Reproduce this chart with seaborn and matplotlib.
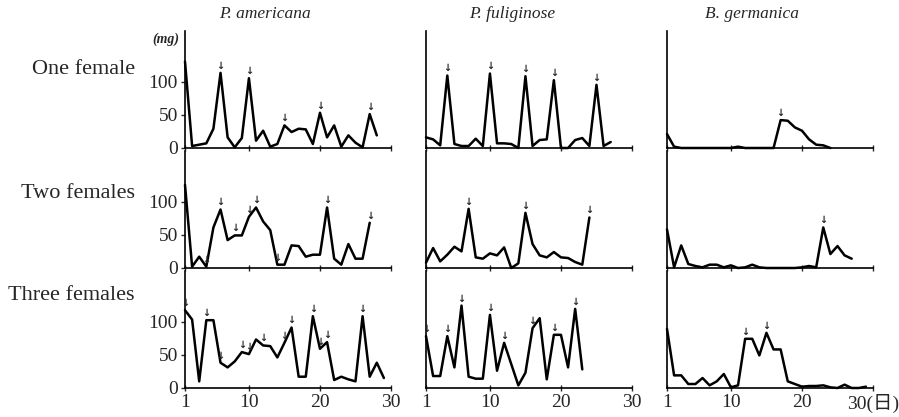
import matplotlib
matplotlib.use("Agg")
import matplotlib.pyplot as plt
import seaborn as sns
import pandas as pd

species = ["P. americana", "P. fuliginose", "B. germanica"]
groups = ["One female", "Two females", "Three females"]

# daily ootheca weight (mg)
americana_one = [130, 3, 5, 7, 29, 113, 16, 1, 15, 105, 11, 26, 2, 6, 34,
                 24, 29, 28, 6, 53, 16, 34, 2, 19, 8, 1, 51, 19]
americana_two = [125, 2, 17, 2, 61, 88, 42, 49, 49, 77, 91, 70, 57, 5, 5,
                 34, 33, 17, 20, 20, 91, 14, 5, 36, 14, 14, 68]
americana_three = [117, 103, 10, 102, 102, 38, 31, 40, 54, 51, 73, 64, 63,
                   46, 68, 91, 17, 17, 108, 59, 69, 12, 17, 13, 10, 108, 17,
                   38, 15]
fuliginose_one = [16, 13, 4, 109, 6, 3, 3, 14, 3, 112, 7, 7, 6, 0, 108, 3,
                  12, 13, 102, 0, 0, 12, 15, 3, 95, 3, 9]
fuliginose_two = [8, 30, 10, 20, 32, 25, 89, 16, 14, 22, 19, 31, 0, 7, 83,
                  36, 19, 16, 24, 16, 15, 9, 5, 76]
fuliginose_three = [78, 18, 18, 78, 31, 124, 17, 14, 14, 110, 26, 68, 36, 4,
                    23, 90, 105, 13, 80, 80, 31, 119, 28]
germanica_one = [21, 2, 0, 0, 0, 0, 0, 0, 0, 0, 2, 0, 0, 0, 0, 0, 42, 41,
                 31, 26, 13, 5, 4, 0]
germanica_two = [58, 1, 34, 6, 3, 1, 5, 5, 1, 4, 0, 1, 5, 1, 0, 0, 0, 0, 0,
                 1, 3, 1, 61, 21, 33, 19, 14]
germanica_three = [89, 19, 19, 6, 6, 15, 4, 10, 21, 1, 4, 74, 74, 49, 83,
                   58, 58, 10, 6, 2, 3, 3, 4, 1, 0, 5, 0, 0, 2]

# days marked with an arrow (oviposition)
americana_one_arrows = [6, 10, 15, 20, 27]
americana_two_arrows = [4, 6, 8, 10, 11, 14, 21, 27]
americana_three_arrows = [1, 4, 6, 9, 10, 12, 15, 16, 19, 20, 21, 26]
fuliginose_one_arrows = [4, 10, 15, 19, 25]
fuliginose_two_arrows = [7, 15, 24]
fuliginose_three_arrows = [1, 4, 6, 10, 12, 16, 19, 22]
germanica_one_arrows = [17]
germanica_two_arrows = [23]
germanica_three_arrows = [12, 15]

x_ticks = [1, 10, 20, 30]
y_ticks = [0, 50, 100]

panels = [
    [(americana_one, americana_one_arrows),
     (fuliginose_one, fuliginose_one_arrows),
     (germanica_one, germanica_one_arrows)],
    [(americana_two, americana_two_arrows),
     (fuliginose_two, fuliginose_two_arrows),
     (germanica_two, germanica_two_arrows)],
    [(americana_three, americana_three_arrows),
     (fuliginose_three, fuliginose_three_arrows),
     (germanica_three, germanica_three_arrows)],
]

sns.set_style("ticks")
plt.rcParams["font.family"] = ["Liberation Serif", "Noto Sans CJK JP"]

W, H = 899, 417
fig = plt.figure(figsize=(W / 100, H / 100), dpi=100)

col_left = [185, 426, 667]
col_width = 206
row_zero = [148, 268, 388]
row_height = 117


def draw_panel(ax, values, arrow_days, row, col):
    df = pd.DataFrame({"day": list(range(1, len(values) + 1)), "mg": values})
    sns.lineplot(data=df, x="day", y="mg", ax=ax, color="black",
                 linewidth=1.8, clip_on=False)
    for d in arrow_days:
        ax.annotate("↓", xy=(d, values[d - 1]), xytext=(0, 1.5),
                    textcoords="offset points", ha="center", va="bottom",
                    fontsize=7, fontweight="bold", family="DejaVu Sans")
    ax.set_xlim(1, 30)
    ax.set_ylim(0, 176)
    sns.despine(ax=ax)
    for side in ("left", "bottom"):
        ax.spines[side].set_linewidth(1.2)
        ax.spines[side].set_color("black")
    ax.set_xticks(x_ticks)
    ax.set_yticks(y_ticks)
    ax.tick_params(axis="x", direction="inout", length=5, width=1,
                   pad=2, labelsize=14)
    ax.tick_params(axis="y", direction="out", length=3, width=1,
                   pad=2, labelsize=14)
    ax.set_xlabel("")
    ax.set_ylabel("")
    if row < 2:
        ax.set_xticklabels([])
    elif col == 2:
        ax.set_xticklabels(["1", "10", "20", "30(日)"])
    if col > 0:
        ax.set_yticklabels([])
        ax.tick_params(axis="y", length=0)


for r in range(3):
    for c in range(3):
        ax = fig.add_axes([col_left[c] / W, 1 - row_zero[r] / H,
                           col_width / W, row_height / H])
        ax.patch.set_alpha(0)
        values, arrows = panels[r][c]
        draw_panel(ax, values, arrows, r, c)

title_x = [265, 512, 752]
for name, x in zip(species, title_x):
    fig.text(x / W, 1 - 14 / H, name, ha="center", va="center",
             fontsize=12.5, style="italic")

label_y = [70, 193, 296]
for name, y in zip(groups, label_y):
    fig.text(135 / W, 1 - y / H, name, ha="right", va="center", fontsize=16)

fig.text(166 / W, 1 - 39 / H, "(mg)", ha="center", va="center",
         fontsize=10, style="italic", fontweight="bold")

fig.savefig("out.png", dpi=100, facecolor="white")
